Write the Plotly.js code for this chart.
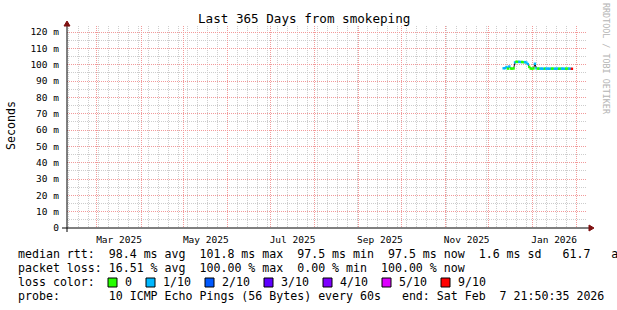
<!DOCTYPE html>
<html>
<head>
<meta charset="utf-8">
<script src="https://cdn.plot.ly/plotly-3.0.1.min.js"></script>
<style>html,body{margin:0;padding:0;background:#fff;}#chart{width:617px;height:310px;}</style>
</head>
<body>
<div id="chart"></div>
<script>
// ---- data ----
const rangeStart = '2025-02-07 21:50:35';
const rangeEnd = '2026-02-07 21:50:35';
const monthStarts = ['2025-03-01','2025-04-01','2025-05-01','2025-06-01','2025-07-01','2025-08-01',
  '2025-09-01','2025-10-01','2025-11-01','2025-12-01','2026-01-01','2026-02-01'];
const labelMonths = [[2025,2],[2025,4],[2025,6],[2025,8],[2025,10],[2026,0]];
const labelText = ['Mar 2025','May 2025','Jul 2025','Sep 2025','Nov 2025','Jan 2026'];
const yTickVals = [0,10,20,30,40,50,60,70,80,90,100,110,120];
const yTickText = ['0','10 m','20 m','30 m','40 m','50 m','60 m','70 m','80 m','90 m','100 m','110 m','120 m'];

const days = ['2025-12-12','2025-12-13','2025-12-14','2025-12-15','2025-12-16','2025-12-17','2025-12-18',
  '2025-12-19','2025-12-20','2025-12-21','2025-12-22','2025-12-23','2025-12-24','2025-12-25','2025-12-26',
  '2025-12-27','2025-12-28','2025-12-29','2025-12-30','2025-12-31','2026-01-01','2026-01-02','2026-01-03',
  '2026-01-04','2026-01-05','2026-01-06','2026-01-07','2026-01-08','2026-01-09','2026-01-10','2026-01-11',
  '2026-01-12','2026-01-13','2026-01-14','2026-01-15','2026-01-16','2026-01-17','2026-01-18','2026-01-19',
  '2026-01-20','2026-01-21','2026-01-22','2026-01-23','2026-01-24','2026-01-25','2026-01-26','2026-01-27',
  '2026-01-28','2026-01-29'];
const medianMs = [97.8,97.9,98.6,97.6,98.9,97.6,97.6,97.7,101.4,101.8,101.7,101.8,101.6,101.7,101.5,
  101.6,101.3,100.4,98.6,97.6,97.6,97.7,100.6,97.8,97.6,97.6,97.6,97.6,97.5,97.6,97.6,
  97.6,97.5,97.6,97.6,97.6,97.5,97.6,97.6,97.5,97.6,97.6,97.6,97.5,97.6,97.6,97.6,
  97.5,97.5];
const lossCount = [1,1,1,0,1,0,0,0,1,0,0,1,1,0,0,1,1,1,0,0,0,0,1,1,0,0,1,1,1,0,1,
  1,1,1,0,0,1,1,1,0,0,1,1,1,0,0,1,1,9];

const lossLevels = [0,1,2,3,4,5,9];
const lossLabels = ['0','1/10','2/10','3/10','4/10','5/10','9/10'];
const lossColors = ['#26ff00','#00b8ff','#0059ff','#5e00ff','#7e00ff','#dd00ff','#ff0000'];

const legendLines = [
  'median rtt:  98.4 ms avg  101.8 ms max  97.5 ms min  97.5 ms now  1.6 ms sd   61.7   am/s',
  'packet loss: 16.51 % avg  100.00 % max  0.00 % min  100.00 % now',
  'loss color:',
  'probe:       10 ICMP Echo Pings (56 Bytes) every 60s   end: Sat Feb  7 21:50:35 2026'
];
const titleText = 'Last 365 Days from smokeping';
const watermark = 'RRDTOOL / TOBI OETIKER';

// ---- helpers ----
const W = 617, H = 310, L = 67, R = 31, T = 26, B = 82;
const pw = W - L - R, ph = H - T - B;
const px2x = p => (p - L) / pw;
const py2y = p => (H - B - p) / ph;
const nb = s => s.replace(/ /g, '\u00a0');
const FONT = 'DejaVu Sans Mono, monospace';

function colorFor(l) {
  let c = lossColors[0];
  lossLevels.forEach((lv, i) => { if (l >= lv) c = lossColors[i]; });
  return c;
}
const labelMids = labelMonths.map(([y, m]) => (Date.UTC(y, m, 1) + Date.UTC(y, m + 1, 1)) / 2);

const traces = [
  { x: days, y: medianMs, type: 'scatter', mode: 'lines', line: { color: '#1a1a1a', width: 1 },
    hoverinfo: 'skip', showlegend: false },
  { x: days, y: medianMs, type: 'scatter', mode: 'markers',
    marker: { symbol: 'square', size: 2.4, color: lossCount.map(colorFor), line: { width: 0 } },
    showlegend: false },
  { x: [rangeStart], y: [null], xaxis: 'x2', type: 'scatter', mode: 'markers', showlegend: false, hoverinfo: 'skip' }
];

const annotations = [
  { text: titleText, x: px2x(304), y: py2y(19), xref: 'paper', yref: 'paper', showarrow: false,
    xanchor: 'center', yanchor: 'middle', font: { family: FONT, size: 12.6, color: '#000' } },
  { text: 'Seconds', x: px2x(11), y: py2y(126), xref: 'paper', yref: 'paper', showarrow: false,
    textangle: -90, xanchor: 'center', yanchor: 'middle', font: { family: FONT, size: 11.6, color: '#000' } },
  { text: nb(watermark), x: px2x(606), y: py2y(59), xref: 'paper', yref: 'paper', showarrow: false,
    textangle: 90, xanchor: 'center', yanchor: 'middle', font: { family: FONT, size: 8.4, color: '#b4b4b4' } }
];
const rowY = [254, 268, 282, 296];
legendLines.forEach((t, i) => annotations.push({
  text: nb(t), x: px2x(16), y: py2y(rowY[i]), xref: 'paper', yref: 'paper', showarrow: false,
  xanchor: 'left', yanchor: 'middle', font: { family: FONT, size: 11.6, color: '#000' }
}));

const shapes = [];
let bx = 108;
lossLabels.forEach((lab, i) => {
  shapes.push({ type: 'rect', xref: 'paper', yref: 'paper', x0: px2x(bx), x1: px2x(bx + 9),
    y0: py2y(287), y1: py2y(278), fillcolor: lossColors[i], line: { color: '#000', width: 1 } });
  annotations.push({ text: lab, x: px2x(bx + 15), y: py2y(rowY[2]), xref: 'paper', yref: 'paper',
    showarrow: false, xanchor: 'left', yanchor: 'middle', font: { family: FONT, size: 11.6, color: '#000' } });
  bx += 15 + 7 * lab.length + 16;
});
// axes lines and arrows
shapes.push({ type: 'line', xref: 'paper', yref: 'paper', x0: px2x(62), x1: px2x(590), y0: 0, y1: 0,
  line: { color: '#000', width: 1 } });
shapes.push({ type: 'line', xref: 'paper', yref: 'paper', x0: 0, x1: 0, y0: py2y(232), y1: py2y(25),
  line: { color: '#000', width: 1 } });
shapes.push({ type: 'path', xref: 'paper', yref: 'paper', xsizemode: 'pixel', ysizemode: 'pixel',
  xanchor: px2x(589), yanchor: 0, path: 'M0,3 L5,0 L0,-3 Z', fillcolor: '#7f1010', line: { color: '#7f1010', width: 1 } });
shapes.push({ type: 'path', xref: 'paper', yref: 'paper', xsizemode: 'pixel', ysizemode: 'pixel',
  xanchor: 0, yanchor: py2y(26), path: 'M-3,0 L0,5 L3,0 Z', fillcolor: '#7f1010', line: { color: '#7f1010', width: 1 } });

const MAJ = '#f29a9a', MIN = '#cdcdcd';
const layout = {
  width: W, height: H,
  margin: { l: L, r: R, t: T, b: B, pad: 0 },
  paper_bgcolor: '#fff', plot_bgcolor: '#fff',
  showlegend: false,
  font: { family: FONT, size: 9.5, color: '#000' },
  xaxis: {
    type: 'date', range: [rangeStart, rangeEnd], tickmode: 'array', tickvals: monthStarts,
    showticklabels: false, ticks: '', showgrid: true, gridcolor: MAJ, griddash: '1px,1px', gridwidth: 1,
    zeroline: false, showline: false, fixedrange: true,
    minor: { dtick: 7 * 86400000, tick0: '2025-02-09', showgrid: true, gridcolor: MIN, griddash: '1px,1px', gridwidth: 1, ticks: '' }
  },
  xaxis2: {
    type: 'date', overlaying: 'x', anchor: 'y', side: 'bottom', range: [rangeStart, rangeEnd],
    tickmode: 'array', tickvals: labelMids, ticktext: labelText, showgrid: false, ticks: '',
    zeroline: false, showline: false, ticklabelstandoff: 4,
    tickfont: { family: FONT, size: 9.5, color: '#000' }
  },
  yaxis: {
    range: [0, 123.7], tickmode: 'array', tickvals: yTickVals, ticktext: yTickText,
    showgrid: true, gridcolor: MAJ, griddash: '1px,1px', gridwidth: 1, zeroline: false, showline: false,
    ticks: '', ticklabelstandoff: 7, tickfont: { family: FONT, size: 9.5, color: '#000' },
    minor: { dtick: 5, showgrid: true, gridcolor: MIN, griddash: '1px,1px', gridwidth: 1, ticks: '' }
  },
  annotations: annotations,
  shapes: shapes
};

Plotly.newPlot('chart', traces, layout, { staticPlot: true, displayModeBar: false });
</script>
</body>
</html>
